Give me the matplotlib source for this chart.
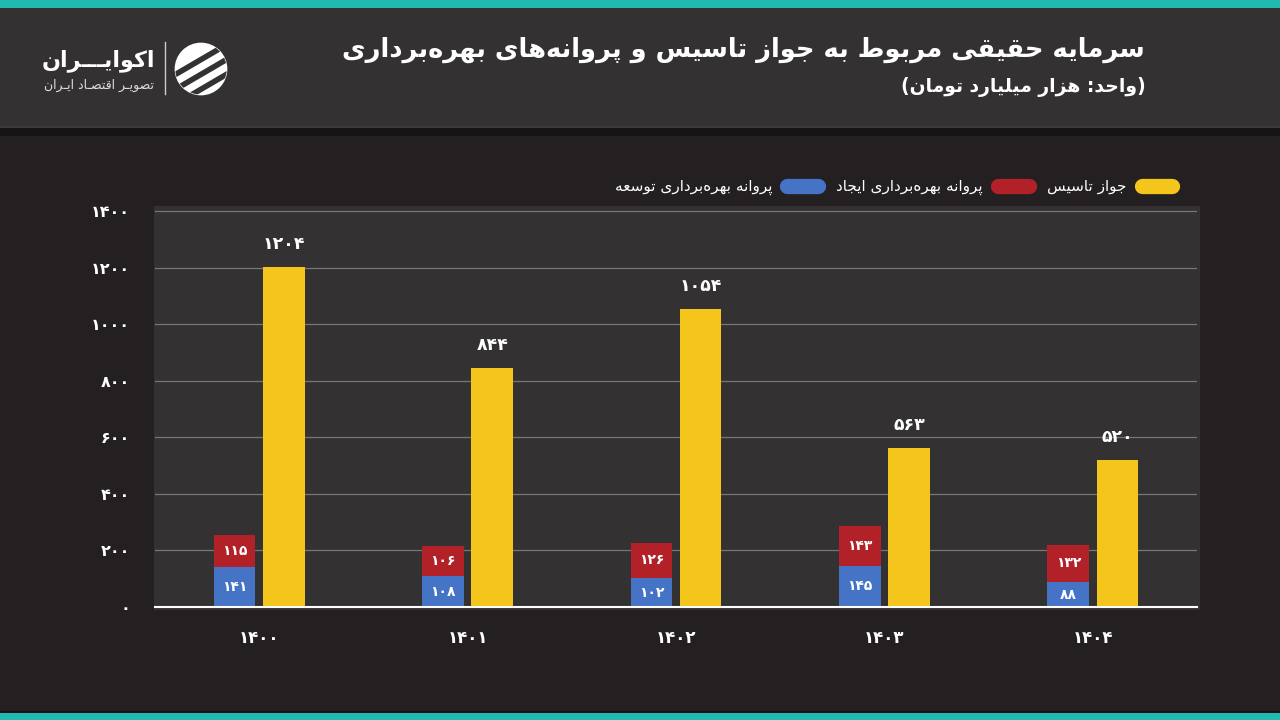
import numpy as np
import matplotlib
matplotlib.use("Agg")
import matplotlib.pyplot as plt
from matplotlib.patches import Rectangle, Circle, Polygon
from matplotlib.lines import Line2D

# chart data
years = ["1400", "1401", "1402", "1403", "1404"]
tose_e = [141, 108, 102, 145, 88]        # parvaneh bahrebardari tose'e (blue)
ijad = [115, 106, 126, 143, 132]         # parvaneh bahrebardari ijad (red)
javaz = [1204, 844, 1054, 563, 520]      # javaz tasis (yellow)
y_ticks = [0, 200, 400, 600, 800, 1000, 1200, 1400]

title = "سرمایه حقیقی مربوط به جواز تاسیس و پروانه\u200cهای بهره\u200cبرداری"
subtitle = "(واحد: هزار میلیارد تومان)"
lbl_javaz = "جواز تاسیس"
lbl_ijad = "پروانه بهره\u200cبرداری ایجاد"
lbl_tose = "پروانه بهره\u200cبرداری توسعه"
logo_name = "اکوایـــران"
logo_sub = "تصویـر اقتصـاد ایـران"

# --- tiny Persian shaper (matplotlib has no bidi / joining) ---
# (isolated, final, initial, medial)
FORMS = {
    "\u0627": ("\uFE8D", "\uFE8E", None, None),
    "\u0628": ("\uFE8F", "\uFE90", "\uFE91", "\uFE92"),
    "\u067E": ("\uFB56", "\uFB57", "\uFB58", "\uFB59"),
    "\u062A": ("\uFE95", "\uFE96", "\uFE97", "\uFE98"),
    "\u062C": ("\uFE9D", "\uFE9E", "\uFE9F", "\uFEA0"),
    "\u062D": ("\uFEA1", "\uFEA2", "\uFEA3", "\uFEA4"),
    "\u062F": ("\uFEA9", "\uFEAA", None, None),
    "\u0631": ("\uFEAD", "\uFEAE", None, None),
    "\u0632": ("\uFEAF", "\uFEB0", None, None),
    "\u0633": ("\uFEB1", "\uFEB2", "\uFEB3", "\uFEB4"),
    "\u0635": ("\uFEB9", "\uFEBA", "\uFEBB", "\uFEBC"),
    "\u0637": ("\uFEC1", "\uFEC2", "\uFEC3", "\uFEC4"),
    "\u0639": ("\uFEC9", "\uFECA", "\uFECB", "\uFECC"),
    "\u0642": ("\uFED5", "\uFED6", "\uFED7", "\uFED8"),
    "\u06A9": ("\uFB8E", "\uFB8F", "\uFB90", "\uFB91"),
    "\u0644": ("\uFEDD", "\uFEDE", "\uFEDF", "\uFEE0"),
    "\u0645": ("\uFEE1", "\uFEE2", "\uFEE3", "\uFEE4"),
    "\u0646": ("\uFEE5", "\uFEE6", "\uFEE7", "\uFEE8"),
    "\u0647": ("\uFEE9", "\uFEEA", "\uFEEB", "\uFEEC"),
    "\u0648": ("\uFEED", "\uFEEE", None, None),
    "\u06CC": ("\uFBFC", "\uFBFD", "\uFBFE", "\uFBFF"),
    "\u0640": ("\u0640", "\u0640", "\u0640", "\u0640"),
}
DUAL = {c for c, f in FORMS.items() if f[2] is not None}


def fa(text):
    out = []
    for i, c in enumerate(text):
        if c not in FORMS:
            out.append(c)
            continue
        prev = text[i - 1] if i > 0 else ""
        nxt = text[i + 1] if i + 1 < len(text) else ""
        jp = prev in DUAL
        jn = c in DUAL and nxt in FORMS
        iso, fin, ini, med = FORMS[c]
        if jp and jn:
            out.append(med)
        elif jp:
            out.append(fin)
        elif jn:
            out.append(ini)
        else:
            out.append(iso)
    s = "".join(out).replace("\u200c", "")[::-1]
    return s.translate(str.maketrans("()", ")("))


def fa_num(v):
    return str(v).translate(str.maketrans("0123456789", "۰۱۲۳۴۵۶۷۸۹"))


BG = "#242021"
HEADER = "#343132"
PANEL = "#343132"
TEAL = "#22b9b1"
YELLOW = "#f4c51a"
RED = "#b22128"
BLUE = "#4574c6"
FONT = "DejaVu Sans"

fig = plt.figure(figsize=(12.8, 7.2), dpi=100, facecolor=BG)
W, H = 1280, 720


def px_rect(x0, y0, x1, y1, color):
    fig.patches.append(Rectangle((x0 / W, 1 - y1 / H), (x1 - x0) / W, (y1 - y0) / H,
                                 transform=fig.transFigure, color=color, zorder=-5, lw=0))


# bands
px_rect(0, 0, 1280, 8, TEAL)
px_rect(0, 8, 1280, 126, HEADER)
px_rect(0, 126, 1280, 128, "#3d3a3b")
px_rect(0, 128, 1280, 136, "#171415")
px_rect(0, 711, 1280, 713, "#161314")
px_rect(0, 713, 1280, 720, TEAL)
# chart panel
px_rect(154, 206, 1200, 610, PANEL)

# header texts
fig.text(1145 / W, 1 - 50 / H, fa(title), ha="right", va="center", color="white",
         fontsize=18.5, fontweight="bold", family=FONT)
fig.text(1146 / W, 1 - 87 / H, fa(subtitle), ha="right", va="center", color="white",
         fontsize=13.5, fontweight="bold", family=FONT)

# logo
fig.text(155 / W, 1 - 61 / H, fa(logo_name), ha="right", va="center", color="white",
         fontsize=16, fontweight="bold", family=FONT)
fig.text(154 / W, 1 - 85 / H, fa(logo_sub), ha="right", va="center", color="#dddddd",
         fontsize=9, family=FONT)
fig.lines.append(Line2D([165 / W, 165 / W], [1 - 42 / H, 1 - 94 / H], transform=fig.transFigure,
                        color="#cccccc", lw=1))
iax = fig.add_axes([174 / W, 1 - 96 / H, 54 / W, 54 / H])
iax.set_xlim(-1, 1)
iax.set_ylim(-1, 1)
iax.set_aspect("equal")
iax.axis("off")
disc = Circle((0, 0), 0.95, color="white")
iax.add_patch(disc)
for o in [-0.55, 0.0, 0.55]:
    band = Polygon([(-1.2, -0.9 + o - 0.09), (1.2, 0.5 + o - 0.09),
                    (1.2, 0.5 + o + 0.09), (-1.2, -0.9 + o + 0.09)],
                   color=HEADER, zorder=3)
    band.set_clip_path(disc)
    iax.add_patch(band)

# main axes
ax = fig.add_axes([155 / W, 1 - 607 / H, (1197 - 155) / W, (607 - 206) / H])
ax.set_facecolor("none")
x = np.arange(len(years))
bw = 0.2
off = 0.118

ax.bar(x - off, tose_e, bw, color=BLUE, zorder=3)
ax.bar(x - off, ijad, bw, bottom=tose_e, color=RED, zorder=3)
ax.bar(x + off, javaz, bw, color=YELLOW, zorder=3)

for i in range(len(years)):
    ax.text(x[i] - off, tose_e[i] / 2, fa_num(tose_e[i]), ha="center", va="center",
            color="white", fontsize=10, fontweight="bold", family=FONT, zorder=4)
    ax.text(x[i] - off, tose_e[i] + ijad[i] / 2, fa_num(ijad[i]), ha="center", va="center",
            color="white", fontsize=10, fontweight="bold", family=FONT, zorder=4)
    ax.annotate(fa_num(javaz[i]), (x[i] + off, javaz[i]), xytext=(0, 23),
                textcoords="offset pixels", ha="center", va="center", color="white",
                fontsize=12.5, fontweight="bold", family=FONT)

ax.set_xlim(-0.5, len(years) - 0.5)
ax.set_ylim(0, 1418)
ax.set_yticks(y_ticks)
ax.set_yticklabels([fa_num(v) for v in y_ticks], family=FONT, fontweight="bold")
ax.set_xticks(x)
ax.set_xticklabels([fa_num(y) for y in years], family=FONT, fontweight="bold")
ax.tick_params(axis="y", length=0, pad=18, colors="white", labelsize=11.5)
ax.tick_params(axis="x", length=0, pad=16, colors="white", labelsize=12)
ax.grid(axis="y", color="#777777", lw=0.9, zorder=0)
for s in ["top", "right", "left"]:
    ax.spines[s].set_visible(False)
ax.spines["bottom"].set_color("white")
ax.spines["bottom"].set_linewidth(1.5)
ax.spines["bottom"].set_zorder(5)

handles = [Line2D([], [], color=c, lw=11, solid_capstyle="round") for c in [BLUE, RED, YELLOW]]
labels = [fa(lbl_tose), fa(lbl_ijad), fa(lbl_javaz)]
leg = fig.legend(handles, labels, loc="center right", bbox_to_anchor=(1180 / W, 1 - 187 / H),
                 ncol=3, frameon=False, markerfirst=False, handlelength=2.0,
                 columnspacing=1.2, handletextpad=1.0, borderpad=0,
                 prop={"family": FONT, "size": 11})
for t in leg.get_texts():
    t.set_color("white")

plt.savefig("out.png", dpi=100, facecolor=BG)
